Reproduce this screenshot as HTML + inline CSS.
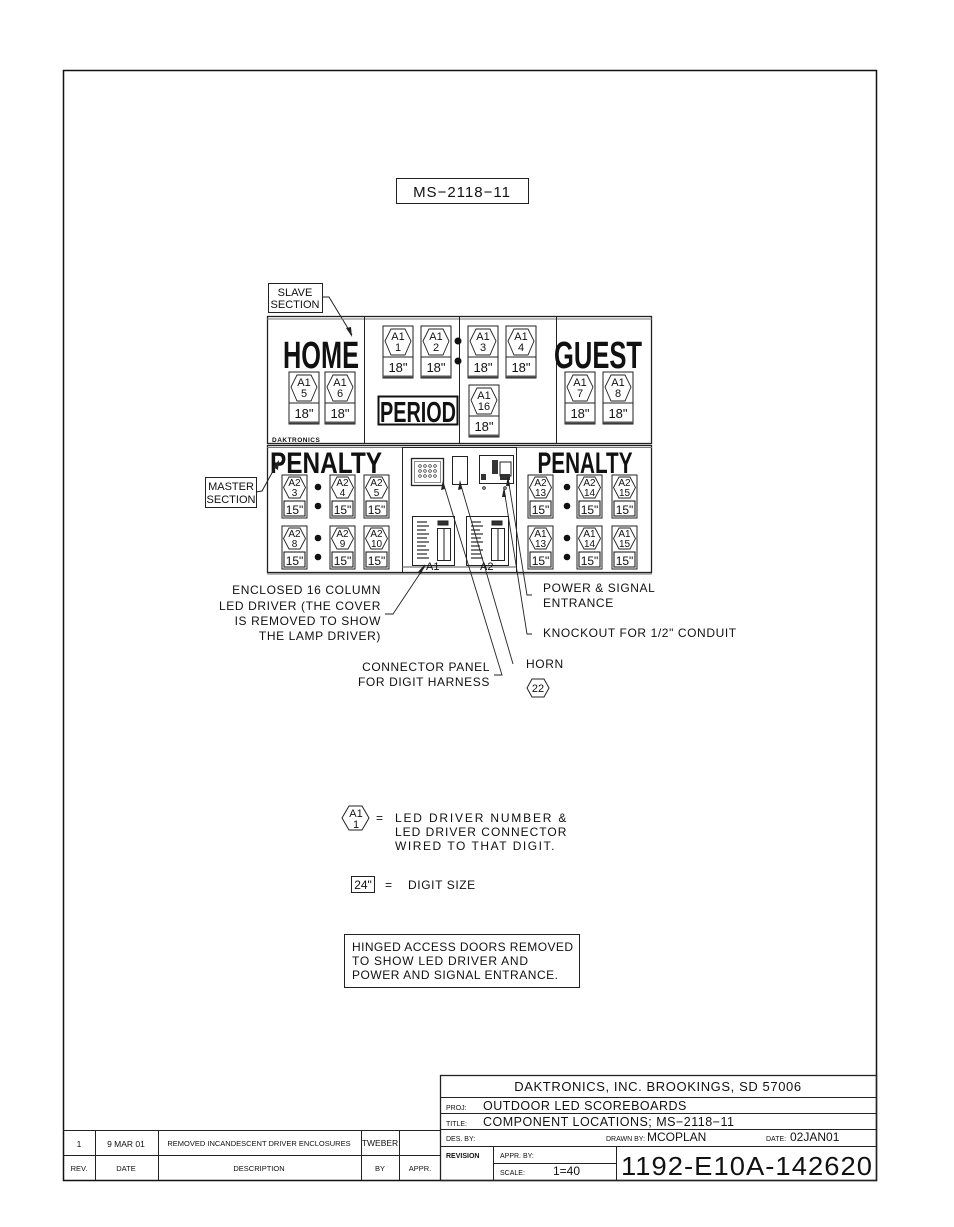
<!DOCTYPE html>
<html><head><meta charset="utf-8"><style>
html,body{margin:0;padding:0;background:#fff;}
svg{display:block;}
text{font-family:"Liberation Sans",sans-serif;fill:#111;}
.n{font-size:12px;letter-spacing:0.6px;}
.big{font-family:"Liberation Sans Narrow","Liberation Sans",sans-serif;font-weight:bold;}
</style></head><body>
<svg width="954" height="1227" viewBox="0 0 954 1227" xmlns="http://www.w3.org/2000/svg">
<defs>
<g id="d18">
<rect x="0" y="0" width="30" height="52" fill="#fff" stroke="#222" stroke-width="1"/>
<polygon points="2,15 8,3 22,3 28,15 22,29 8,29" fill="none" stroke="#222" stroke-width="0.9"/>
<line x1="0" y1="31" x2="30" y2="31" stroke="#222"/>
<line x1="0" y1="50.5" x2="30" y2="50.5" stroke="#555" stroke-width="2"/>
<text x="15" y="46" font-size="13" text-anchor="middle">18"</text>
</g>
<g id="d15">
<rect x="0" y="0" width="25" height="43" fill="#fff" stroke="#222" stroke-width="1"/>
<polygon points="1.5,12.5 7,2 18,2 23.5,12.5 18,23 7,23" fill="none" stroke="#222" stroke-width="0.9"/>
<rect x="2" y="26" width="21" height="15" fill="none" stroke="#222" stroke-width="1.1"/>
<text x="12.5" y="39" font-size="12" text-anchor="middle">15"</text>
</g>
</defs>

<rect x="63.5" y="70.5" width="813" height="1110" fill="none" stroke="#111" stroke-width="1.5"/>

<rect x="396.5" y="178.5" width="132" height="25" fill="none" stroke="#222"/>
<text x="462" y="197" font-size="15" text-anchor="middle" letter-spacing="1">MS−2118−11</text>

<rect x="268.5" y="283.5" width="54" height="29" fill="#fff" stroke="#222"/>
<text x="295" y="296" font-size="11" text-anchor="middle">SLAVE</text>
<text x="295" y="308" font-size="11" text-anchor="middle">SECTION</text>
<polyline points="322,297 329,297 352,335" fill="none" stroke="#222"/>
<polygon points="352,337 346,328 351,327" fill="#222"/>

<rect x="267.5" y="316.5" width="384" height="127" fill="none" stroke="#222" stroke-width="1.3"/>
<line x1="267" y1="319" x2="652" y2="319" stroke="#777"/>
<line x1="364.5" y1="317" x2="364.5" y2="443" stroke="#222"/>
<line x1="459.5" y1="317" x2="459.5" y2="443" stroke="#222"/>
<line x1="556.5" y1="317" x2="556.5" y2="443" stroke="#222"/>
<text x="321" y="368" font-size="38" class="big" text-anchor="middle" textLength="76" lengthAdjust="spacingAndGlyphs">HOME</text>
<text x="598" y="368" font-size="38" class="big" text-anchor="middle" textLength="88" lengthAdjust="spacingAndGlyphs">GUEST</text>
<text x="272" y="442" font-size="6.5" font-weight="bold" letter-spacing="0.5">DAKTRONICS</text>
<circle cx="458" cy="341" r="3.5" fill="#111"/><circle cx="458" cy="361" r="3.5" fill="#111"/>
<rect x="378.5" y="396.5" width="79" height="28" fill="#fff" stroke="#111" stroke-width="2"/>
<text x="418" y="422" font-size="29" class="big" text-anchor="middle" textLength="76" lengthAdjust="spacingAndGlyphs">PERIOD</text>

<g transform="translate(383,326)"><use href="#d18"/><text x="15" y="14" font-size="11" text-anchor="middle">A1</text><text x="15" y="25" font-size="11" text-anchor="middle">1</text></g>
<g transform="translate(421,326)"><use href="#d18"/><text x="15" y="14" font-size="11" text-anchor="middle">A1</text><text x="15" y="25" font-size="11" text-anchor="middle">2</text></g>
<g transform="translate(468,326)"><use href="#d18"/><text x="15" y="14" font-size="11" text-anchor="middle">A1</text><text x="15" y="25" font-size="11" text-anchor="middle">3</text></g>
<g transform="translate(506,326)"><use href="#d18"/><text x="15" y="14" font-size="11" text-anchor="middle">A1</text><text x="15" y="25" font-size="11" text-anchor="middle">4</text></g>
<g transform="translate(289,372)"><use href="#d18"/><text x="15" y="14" font-size="11" text-anchor="middle">A1</text><text x="15" y="25" font-size="11" text-anchor="middle">5</text></g>
<g transform="translate(325,372)"><use href="#d18"/><text x="15" y="14" font-size="11" text-anchor="middle">A1</text><text x="15" y="25" font-size="11" text-anchor="middle">6</text></g>
<g transform="translate(469,385)"><use href="#d18"/><text x="15" y="14" font-size="11" text-anchor="middle">A1</text><text x="15" y="25" font-size="11" text-anchor="middle">16</text></g>
<g transform="translate(565,372)"><use href="#d18"/><text x="15" y="14" font-size="11" text-anchor="middle">A1</text><text x="15" y="25" font-size="11" text-anchor="middle">7</text></g>
<g transform="translate(603,372)"><use href="#d18"/><text x="15" y="14" font-size="11" text-anchor="middle">A1</text><text x="15" y="25" font-size="11" text-anchor="middle">8</text></g>

<rect x="267.5" y="445.5" width="384" height="127" fill="none" stroke="#222" stroke-width="1.3"/>
<line x1="267" y1="447.5" x2="652" y2="447.5" stroke="#777"/>
<line x1="267" y1="574" x2="652" y2="574" stroke="#777"/>
<rect x="402.5" y="447.5" width="114" height="125" fill="none" stroke="#222"/>
<line x1="402" y1="567" x2="516" y2="567" stroke="#555"/>
<text x="326" y="473" font-size="30" class="big" text-anchor="middle" textLength="112" lengthAdjust="spacingAndGlyphs">PENALTY</text>
<text x="585" y="473" font-size="30" class="big" text-anchor="middle" textLength="95" lengthAdjust="spacingAndGlyphs">PENALTY</text>

<rect x="205.5" y="477.5" width="51" height="30" fill="#fff" stroke="#222"/>
<text x="231" y="490" font-size="11" text-anchor="middle">MASTER</text>
<text x="231" y="503" font-size="11" text-anchor="middle">SECTION</text>
<polyline points="256,492 262,491 278,462" fill="none" stroke="#222"/>
<polygon points="279,460 278,470 273,467" fill="#222"/>

<g font-size="10">
<g transform="translate(282,475)"><use href="#d15"/><text x="12.5" y="11" text-anchor="middle">A2</text><text x="12.5" y="21" text-anchor="middle">3</text></g>
<g transform="translate(330,475)"><use href="#d15"/><text x="12.5" y="11" text-anchor="middle">A2</text><text x="12.5" y="21" text-anchor="middle">4</text></g>
<g transform="translate(364,475)"><use href="#d15"/><text x="12.5" y="11" text-anchor="middle">A2</text><text x="12.5" y="21" text-anchor="middle">5</text></g>
<g transform="translate(282,526)"><use href="#d15"/><text x="12.5" y="11" text-anchor="middle">A2</text><text x="12.5" y="21" text-anchor="middle">8</text></g>
<g transform="translate(330,526)"><use href="#d15"/><text x="12.5" y="11" text-anchor="middle">A2</text><text x="12.5" y="21" text-anchor="middle">9</text></g>
<g transform="translate(364,526)"><use href="#d15"/><text x="12.5" y="11" text-anchor="middle">A2</text><text x="12.5" y="21" text-anchor="middle">10</text></g>
<g transform="translate(528,475)"><use href="#d15"/><text x="12.5" y="11" text-anchor="middle">A2</text><text x="12.5" y="21" text-anchor="middle">13</text></g>
<g transform="translate(577,475)"><use href="#d15"/><text x="12.5" y="11" text-anchor="middle">A2</text><text x="12.5" y="21" text-anchor="middle">14</text></g>
<g transform="translate(612,475)"><use href="#d15"/><text x="12.5" y="11" text-anchor="middle">A2</text><text x="12.5" y="21" text-anchor="middle">15</text></g>
<g transform="translate(528,526)"><use href="#d15"/><text x="12.5" y="11" text-anchor="middle">A1</text><text x="12.5" y="21" text-anchor="middle">13</text></g>
<g transform="translate(577,526)"><use href="#d15"/><text x="12.5" y="11" text-anchor="middle">A1</text><text x="12.5" y="21" text-anchor="middle">14</text></g>
<g transform="translate(612,526)"><use href="#d15"/><text x="12.5" y="11" text-anchor="middle">A1</text><text x="12.5" y="21" text-anchor="middle">15</text></g>
</g>
<g fill="#111">
<circle cx="318" cy="487" r="3.3"/><circle cx="318" cy="506" r="3.3"/>
<circle cx="318" cy="538" r="3.3"/><circle cx="318" cy="557" r="3.3"/>
<circle cx="567" cy="487" r="3.3"/><circle cx="567" cy="506" r="3.3"/>
<circle cx="567" cy="538" r="3.3"/><circle cx="567" cy="557" r="3.3"/>
</g>

<rect x="411.5" y="458.5" width="32" height="27" fill="none" stroke="#222" stroke-width="1.3"/>
<rect x="414.5" y="461.5" width="26" height="21" fill="none" stroke="#444" stroke-width="0.6"/>
<g fill="none" stroke="#222" stroke-width="0.7">
<circle cx="420" cy="466" r="1.3"/><circle cx="425" cy="466" r="1.3"/><circle cx="430" cy="466" r="1.3"/><circle cx="435" cy="466" r="1.3"/>
<circle cx="420" cy="471" r="1.3"/><circle cx="425" cy="471" r="1.3"/><circle cx="430" cy="471" r="1.3"/><circle cx="435" cy="471" r="1.3"/>
<circle cx="420" cy="476" r="1.3"/><circle cx="425" cy="476" r="1.3"/><circle cx="430" cy="476" r="1.3"/><circle cx="435" cy="476" r="1.3"/>
</g>
<rect x="452.5" y="456.5" width="15" height="28" fill="none" stroke="#222"/>
<rect x="479.5" y="455.5" width="34" height="28" fill="none" stroke="#222"/>
<rect x="492" y="460" width="6" height="14" fill="#333"/>
<rect x="500" y="462" width="11" height="14" fill="none" stroke="#222"/>
<rect x="500" y="474" width="10" height="6" fill="#333"/>
<rect x="481" y="474" width="5" height="6" fill="#333"/>
<circle cx="484" cy="488" r="1.3" fill="none" stroke="#222"/>
<circle cx="505" cy="488" r="1.3" fill="none" stroke="#222"/>
<g stroke="#222" fill="none">
<rect x="412.5" y="516.5" width="42" height="49"/>
<rect x="466.5" y="516.5" width="42" height="49"/>
</g>
<g stroke="#333" stroke-width="1.2">
<path d="M417 522 h10 M417 526 h12 M417 530 h9 M417 534 h12 M417 538 h10 M417 542 h12 M417 546 h9 M417 550 h12 M417 554 h10 M417 558 h12" />
<path d="M471 522 h10 M471 526 h12 M471 530 h9 M471 534 h12 M471 538 h10 M471 542 h12 M471 546 h9 M471 550 h12 M471 554 h10 M471 558 h12" />
</g>
<g stroke="#222" fill="none">
<rect x="437.5" y="528.5" width="13" height="32"/><rect x="491.5" y="528.5" width="13" height="32"/>
<line x1="444" y1="529" x2="444" y2="560"/><line x1="498" y1="529" x2="498" y2="560"/>
<rect x="438" y="521" width="10" height="4" fill="#333"/><rect x="492" y="521" width="10" height="4" fill="#333"/>
</g>
<text x="426" y="570" font-size="11">A1</text>
<text x="480" y="570" font-size="11">A2</text>

<g fill="none" stroke="#222" stroke-width="0.9">
<polyline points="385,614 393,614 425,566"/>
<polyline points="494,675 502,675 443,482"/>
<polyline points="513,664 460,482"/>
<polyline points="532,595 527,595 508,478"/>
<polyline points="532,634 527,634 504,489"/>
</g>
<polygon points="425,564 418,572 421,574" fill="#222"/>
<polygon points="443,480 441,490 445,489" fill="#222"/>
<polygon points="460,480 458,490 462,489" fill="#222"/>
<polygon points="508,476 506,486 510,486" fill="#222"/>
<polygon points="504,487 502,497 506,497" fill="#222"/>

<g class="n">
<text x="381" y="594" text-anchor="end">ENCLOSED 16 COLUMN</text>
<text x="381" y="610" text-anchor="end">LED DRIVER (THE COVER</text>
<text x="381" y="625" text-anchor="end">IS REMOVED TO SHOW</text>
<text x="381" y="640" text-anchor="end">THE LAMP DRIVER)</text>
<text x="543" y="592">POWER &amp; SIGNAL</text>
<text x="543" y="607">ENTRANCE</text>
<text x="543" y="637">KNOCKOUT FOR 1/2" CONDUIT</text>
<text x="490" y="671" text-anchor="end">CONNECTOR PANEL</text>
<text x="490" y="686" text-anchor="end">FOR DIGIT HARNESS</text>
<text x="526" y="668">HORN</text>
</g>
<polygon points="527,688 532,679 544,679 549,688 544,697 532,697" fill="none" stroke="#222"/>
<text x="538" y="692" font-size="11" text-anchor="middle">22</text>

<polygon points="342,818 349,806 362,806 369,818 362,830 349,830" fill="none" stroke="#222"/>
<text x="356" y="817" font-size="11" text-anchor="middle">A1</text>
<text x="356" y="828" font-size="11" text-anchor="middle">1</text>
<g class="n">
<text x="376" y="822">=</text>
<text x="395" y="822" textLength="172" lengthAdjust="spacing">LED DRIVER NUMBER &amp;</text>
<text x="395" y="836" textLength="172" lengthAdjust="spacing">LED DRIVER CONNECTOR</text>
<text x="395" y="850" textLength="160" lengthAdjust="spacing">WIRED TO THAT DIGIT.</text>
<text x="385" y="889">=</text>
<text x="408" y="889">DIGIT SIZE</text>
</g>
<rect x="351.5" y="876.5" width="23" height="16" fill="none" stroke="#222"/>
<text x="363" y="889" font-size="12" text-anchor="middle">24"</text>
<rect x="344.5" y="934.5" width="235" height="53" fill="none" stroke="#222"/>
<g class="n" style="letter-spacing:0">
<text x="352" y="951" textLength="221" lengthAdjust="spacing">HINGED ACCESS DOORS REMOVED</text>
<text x="352" y="965" textLength="176" lengthAdjust="spacing">TO SHOW LED DRIVER AND</text>
<text x="352" y="979" textLength="206" lengthAdjust="spacing">POWER AND SIGNAL ENTRANCE.</text>
</g>

<g stroke="#222" fill="none">
<line x1="63" y1="1130.5" x2="440" y2="1130.5"/>
<line x1="63" y1="1155.5" x2="440" y2="1155.5"/>
<line x1="95.5" y1="1130" x2="95.5" y2="1180"/>
<line x1="158.5" y1="1130" x2="158.5" y2="1180"/>
<line x1="361.5" y1="1130" x2="361.5" y2="1180"/>
<line x1="399.5" y1="1130" x2="399.5" y2="1180"/>
<rect x="440.5" y="1075.5" width="436" height="105" stroke-width="1.3"/>
<line x1="440" y1="1097.5" x2="877" y2="1097.5"/>
<line x1="440" y1="1113.5" x2="877" y2="1113.5"/>
<line x1="440" y1="1129.5" x2="877" y2="1129.5"/>
<line x1="440" y1="1146.5" x2="877" y2="1146.5"/>
<line x1="493.5" y1="1146" x2="493.5" y2="1180"/>
<line x1="493" y1="1163.5" x2="616" y2="1163.5"/>
<line x1="616.5" y1="1146" x2="616.5" y2="1180"/>
</g>
<g font-size="8.5">
<text x="79" y="1147" text-anchor="middle">1</text>
<text x="126" y="1147" text-anchor="middle">9 MAR 01</text>
<text x="259" y="1146" text-anchor="middle" font-size="7.5">REMOVED INCANDESCENT DRIVER ENCLOSURES</text>
<text x="380" y="1146" text-anchor="middle">TWEBER</text>
<text x="79" y="1171" text-anchor="middle" font-size="7.5">REV.</text>
<text x="126" y="1171" text-anchor="middle" font-size="7.5">DATE</text>
<text x="259" y="1171" text-anchor="middle" font-size="7.5">DESCRIPTION</text>
<text x="380" y="1171" text-anchor="middle" font-size="7.5">BY</text>
<text x="420" y="1171" text-anchor="middle" font-size="7.5">APPR.</text>
</g>
<text x="658" y="1091" font-size="13" text-anchor="middle" letter-spacing="0.6">DAKTRONICS, INC.   BROOKINGS, SD 57006</text>
<text x="446" y="1110" font-size="7">PROJ:</text>
<text x="483" y="1110" font-size="12.5" letter-spacing="0.5">OUTDOOR LED SCOREBOARDS</text>
<text x="446" y="1126" font-size="7">TITLE:</text>
<text x="483" y="1126" font-size="12.5" letter-spacing="0.5">COMPONENT LOCATIONS; MS−2118−11</text>
<text x="446" y="1141" font-size="7">DES. BY:</text>
<text x="606" y="1141" font-size="7">DRAWN BY:</text>
<text x="647" y="1141" font-size="12">MCOPLAN</text>
<text x="766" y="1141" font-size="7">DATE:</text>
<text x="790" y="1141" font-size="12">02JAN01</text>
<text x="446" y="1158" font-size="7" font-weight="bold">REVISION</text>
<text x="500" y="1158" font-size="7">APPR. BY:</text>
<text x="500" y="1175" font-size="7">SCALE:</text>
<text x="553" y="1175" font-size="12">1=40</text>
<text x="747" y="1175" font-size="26" text-anchor="middle" letter-spacing="1" textLength="252" lengthAdjust="spacingAndGlyphs">1192-E10A-142620</text>
</svg>
</body></html>
